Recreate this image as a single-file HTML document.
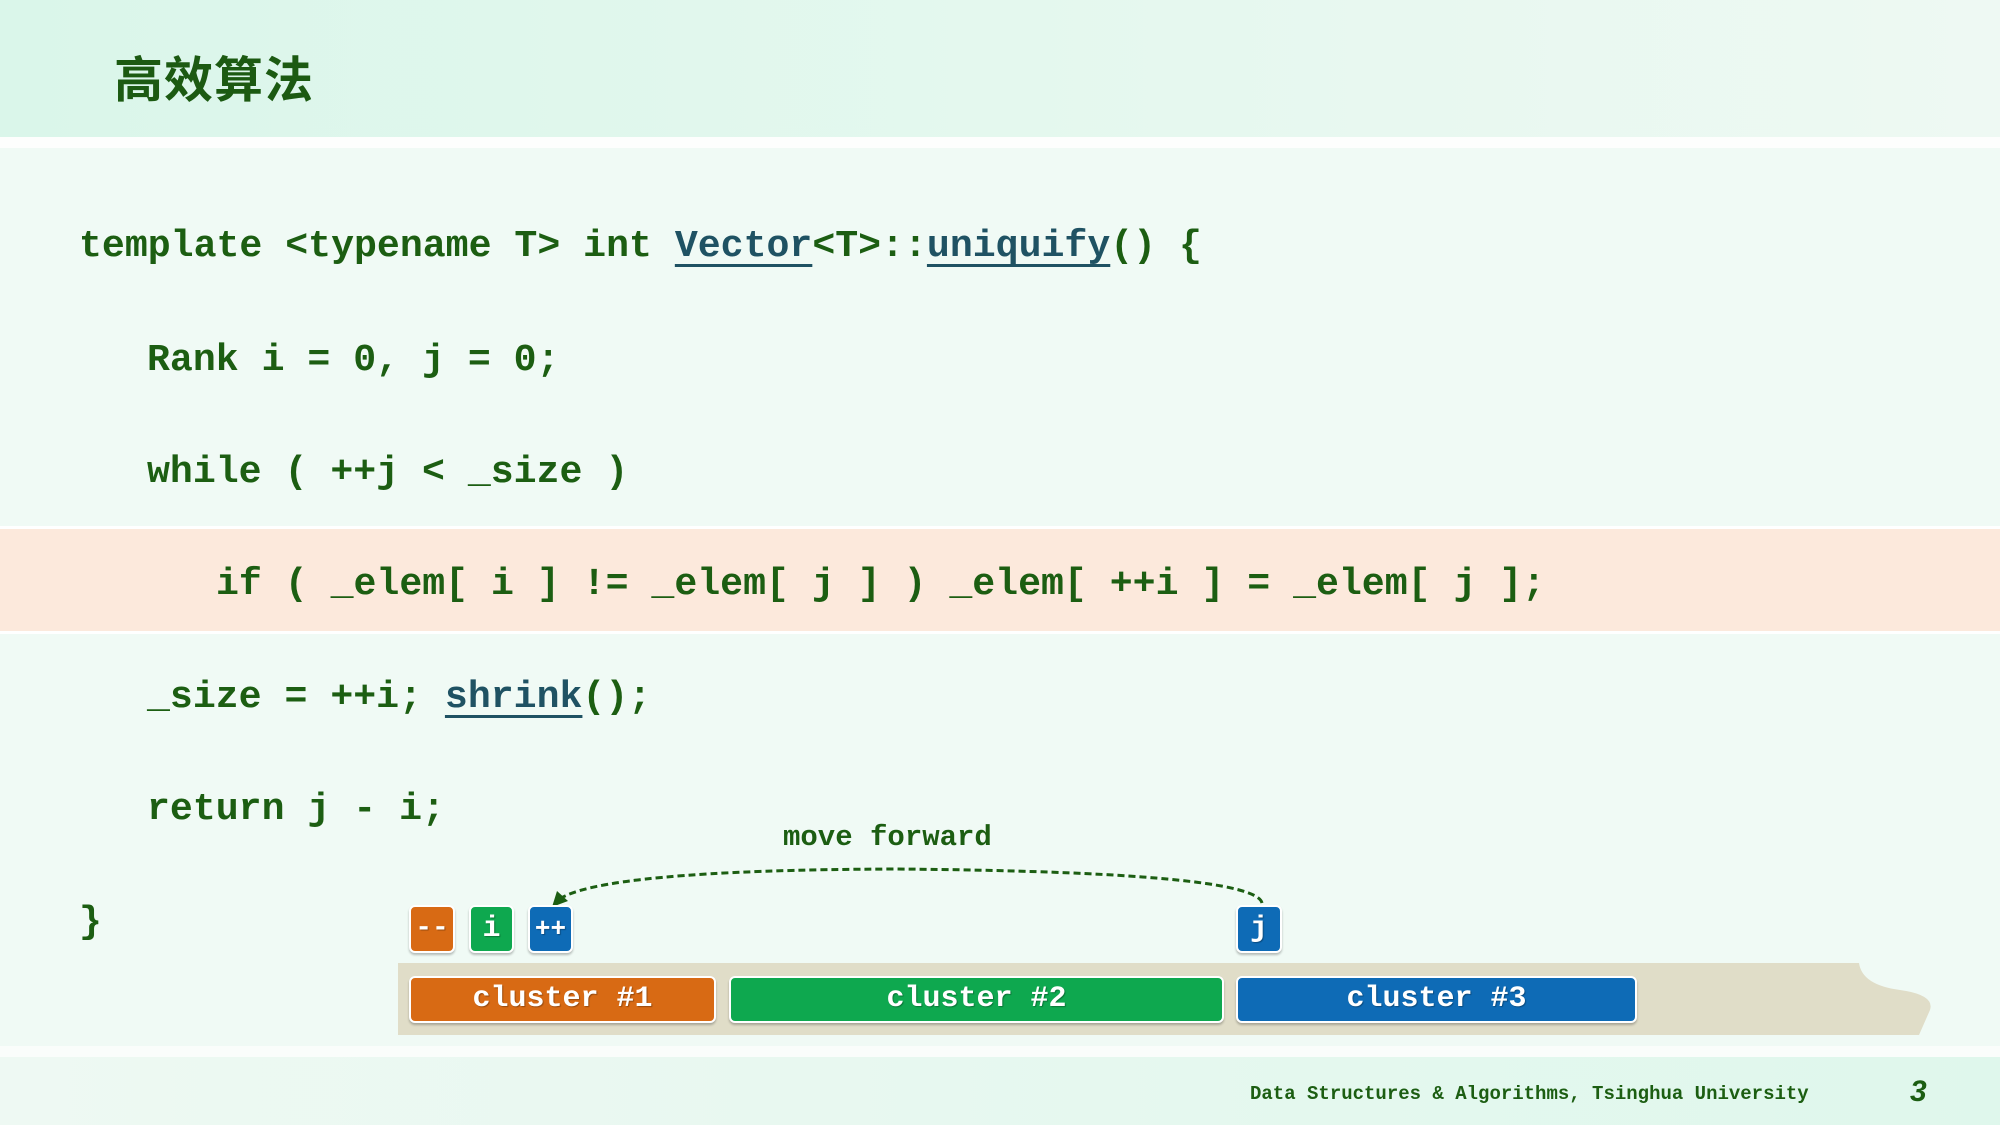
<!DOCTYPE html>
<html><head><meta charset="utf-8"><style>
html,body{margin:0;padding:0}
body{width:2000px;height:1125px;position:relative;overflow:hidden;background:#f0faf5;font-family:"Liberation Mono",monospace}
.hdr{position:absolute;left:0;top:0;width:2000px;height:137px;background:linear-gradient(90deg,#daf6ea,#e6f8ef 60%,#eef9f3)}
.wl{position:absolute;left:0;top:137px;width:2000px;height:11px;background:#fdfefd}
.title{position:absolute;left:114px;top:41px;font:bold 49px "Noto Sans CJK SC",sans-serif;color:#1c5a12;letter-spacing:1px}
.hl{position:absolute;left:0;top:529px;width:2000px;height:102px;background:#fce9dc;border-top:3px solid #fff;border-bottom:3px solid #fff;box-sizing:content-box;margin-top:-3px}
.code{position:absolute;font-weight:bold;font-size:38.2px;color:#1c5e12;white-space:pre;line-height:1}
.u{color:#1f5263;text-decoration:underline;text-decoration-thickness:3px;text-underline-offset:8px}
.foot{position:absolute;left:0;top:1057px;width:2000px;height:68px;background:linear-gradient(90deg,#eef9f3,#dff7ec)}
.fw{position:absolute;left:0;top:1046px;width:2000px;height:11px;background:#fafdfb}
.ft{position:absolute;left:1250px;top:1083px;font-weight:bold;font-size:19px;color:#1c5e12;white-space:pre}
.pg{position:absolute;left:1910px;top:1075px;font:italic bold 30px "Liberation Sans",sans-serif;color:#1c5e12}
.box{position:absolute;box-sizing:border-box;border:2px solid #fff;border-radius:6px;color:#fff;font-weight:bold;text-align:center;box-shadow:0 2px 2px rgba(0,0,0,.25);text-shadow:1px 1px 1px rgba(0,0,0,.3)}
.o{background:#d86a14}.g{background:#0ea84f}.b{background:#0e6bb6}
</style></head><body>
<div class="hdr"></div><div class="wl"></div>
<div class="title">高效算法</div>
<div class="hl"></div>
<div class="code" style="left:79px;top:228px">template &lt;typename T&gt; int <span class="u">Vector</span>&lt;T&gt;::<span class="u">uniquify</span>() {</div>
<div class="code" style="left:147px;top:342px">Rank i = 0, j = 0;</div>
<div class="code" style="left:147px;top:454px">while ( ++j &lt; _size )</div>
<div class="code" style="left:216px;top:566px">if ( _elem[ i ] != _elem[ j ] ) _elem[ ++i ] = _elem[ j ];</div>
<div class="code" style="left:147px;top:679px">_size = ++i; <span class="u">shrink</span>();</div>
<div class="code" style="left:147px;top:791px">return j - i;</div>
<div class="code" style="left:79px;top:904px">}</div>

<svg style="position:absolute;left:0;top:0" width="2000" height="1125">
<path d="M398 963 L1859 963 Q1862 985 1900 990 Q1935 995 1930 1010 L1919 1035 L398 1035 Z" fill="#e0ddc8"/>
<path d="M1262 903 Q1255 872 896 869 Q600 870 558 900" fill="none" stroke="#1c5e12" stroke-width="3" stroke-dasharray="7,4"/>
<polygon points="552,907 557,891 568,901" fill="#1c5e12"/>
<text x="783" y="845" font-family="Liberation Mono" font-weight="bold" font-size="29" fill="#1c5e12">move forward</text>
</svg>

<div class="box o" style="left:409px;top:905px;width:46px;height:48px;font-size:28px;line-height:44px">--</div>
<div class="box g" style="left:469px;top:905px;width:45px;height:48px;font-size:30px;line-height:44px">i</div>
<div class="box b" style="left:528px;top:905px;width:45px;height:48px;font-size:26px;line-height:44px">++</div>
<div class="box b" style="left:1236px;top:905px;width:46px;height:48px;font-size:30px;line-height:44px">j</div>

<div class="box o" style="left:409px;top:976px;width:307px;height:47px;font-size:30px;line-height:43px">cluster #1</div>
<div class="box g" style="left:729px;top:976px;width:495px;height:47px;font-size:30px;line-height:43px">cluster #2</div>
<div class="box b" style="left:1236px;top:976px;width:401px;height:47px;font-size:30px;line-height:43px">cluster #3</div>

<div class="fw"></div><div class="foot"></div>
<div class="ft">Data Structures &amp; Algorithms, Tsinghua University</div>
<div class="pg">3</div>
</body></html>
